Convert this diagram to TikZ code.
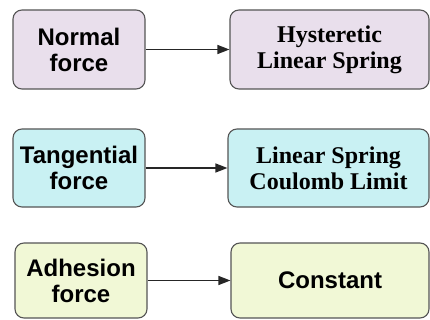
\documentclass[tikz,border=0pt]{standalone}
\usepackage{fontspec}
\setmainfont{Liberation Serif}
\setsansfont{Liberation Sans}
\usetikzlibrary{arrows.meta}
\definecolor{cpurple}{HTML}{E9DFEC}
\definecolor{ccyan}{HTML}{C9F1F3}
\definecolor{cyel}{HTML}{F1F8D6}
\definecolor{cline}{HTML}{555555}
\tikzset{
  box/.style={draw=cline, line width=1.1pt, rounded corners=9pt, align=center, inner sep=0pt},
  lbox/.style={box, minimum width=132pt, font=\sffamily\bfseries\fontsize{24}{26}\selectfont},
  rbox/.style={box, minimum width=199pt, font=\rmfamily\bfseries\fontsize{24}{26}\selectfont},
  conn/.style={draw=black!85, line width=1.3pt, -{Triangle[length=12pt,width=9pt]}},
}
\begin{document}
\begin{tikzpicture}[x=1pt,y=-1pt]
\useasboundingbox (0,0) rectangle (430,320);
\node[lbox, fill=cpurple, minimum height=79pt] (a1) at (79,49.5) {Normal\\force};
\node[rbox, fill=cpurple, minimum height=79pt] (b1) at (329.5,49.5) {Hysteretic\\Linear Spring};
\node[lbox, fill=ccyan, minimum height=78pt] (a2) at (79,168) {Tangential\\force};
\node[rbox, fill=ccyan, minimum height=78pt, minimum width=201pt] (b2) at (328.5,168) {Linear Spring\\Coulomb Limit};
\node[lbox, fill=cyel, minimum height=75pt] (a3) at (81,280.5) {Adhesion\\force};
\node[lbox, fill=cyel, minimum height=75pt, minimum width=198pt] (b3) at (330,280.5) {Constant};
\draw[conn] (a1) -- (b1);
\draw[conn] (a2) -- (b2);
\draw[conn] (a3) -- (b3);
\end{tikzpicture}
\end{document}
